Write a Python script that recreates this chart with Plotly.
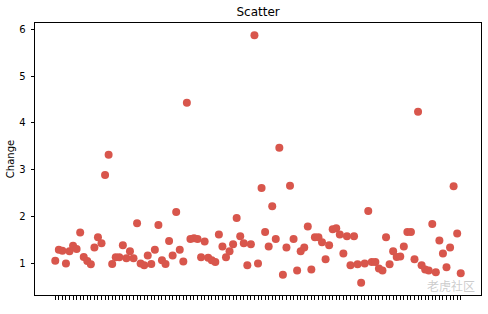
import plotly.graph_objects as go

# categories (tick labels in the reference are too small to read; use positions)
categories = [str(i) for i in range(115)]

change = [
    1.06, 1.29, 1.27, 1.00, 1.26, 1.38, 1.31, 1.66, 1.14, 1.05,
    0.98, 1.34, 1.56, 1.43, 2.89, 3.32, 0.99, 1.13, 1.13, 1.39,
    1.11, 1.26, 1.11, 1.86, 1.00, 0.96, 1.17, 0.99, 1.29, 1.82,
    1.07, 0.99, 1.48, 1.17, 2.10, 1.29, 1.04, 4.43, 1.52, 1.54,
    1.52, 1.13, 1.47, 1.12, 1.07, 1.03, 1.62, 1.36, 1.13, 1.26,
    1.41, 1.97, 1.58, 1.43, 0.96, 1.41, 5.87, 1.00, 2.61, 1.67,
    1.36, 2.22, 1.52, 3.47, 0.76, 1.34, 2.66, 1.52, 0.85, 1.26,
    1.34, 1.79, 0.87, 1.56, 1.56, 1.45, 1.09, 1.39, 1.73, 1.75,
    1.62, 1.21, 1.58, 0.96, 1.58, 0.98, 0.59, 1.00, 2.12, 1.03,
    1.03, 0.89, 0.85, 1.56, 0.98, 1.26, 1.14, 1.15, 1.36, 1.67,
    1.67, 1.09, 4.24, 0.96, 0.87, 0.85, 1.84, 0.81, 1.49, 1.21,
    0.92, 1.34, 2.65, 1.64, 0.79,
]

y_ticks = [1, 2, 3, 4, 5, 6]

n = len(categories)
ymin, ymax = min(change), max(change)
span = ymax - ymin
xpad = 0.05 * (n - 1)

fig = go.Figure(
    go.Scatter(
        x=list(range(n)),
        y=change,
        mode="markers",
        marker=dict(size=8, color="rgb(216,86,76)", line=dict(width=0)),
        hoverinfo="y",
    )
)

axis_common = dict(
    showline=True, linecolor="black", linewidth=1, mirror=True,
    showgrid=False, zeroline=False,
    ticks="outside", ticklen=3.5, tickwidth=0.8, tickcolor="black",
)

fig.update_layout(
    width=488, height=314,
    margin=dict(l=35, r=7, t=23, b=19),
    paper_bgcolor="white", plot_bgcolor="white",
    font=dict(family="DejaVu Sans", size=10, color="black"),
    showlegend=False,
    title=dict(text="Scatter", x=0.529, xanchor="center", y=0.962, yanchor="middle",
               font=dict(size=12, family="DejaVu Sans", color="black")),
    xaxis=dict(
        **axis_common,
        range=[-xpad, n - 1 + xpad],
        tickmode="array",
        tickvals=list(range(n)),
        ticktext=categories,
        showticklabels=False,
    ),
    yaxis=dict(
        **axis_common,
        range=[ymin - 0.05 * span, ymax + 0.05 * span],
        tickmode="array",
        tickvals=y_ticks,
        ticktext=[str(v) for v in y_ticks],
        ticklabelstandoff=3,
        title=dict(text="Change", font=dict(size=10), standoff=2),
    ),
    annotations=[
        dict(text="老虎社区", x=0.99, y=0.035, xref="paper", yref="paper",
             xanchor="right", yanchor="middle", showarrow=False,
             font=dict(size=12, color="rgba(170,170,170,0.6)",
                       family="Noto Sans CJK SC")),
    ],
)

fig.write_html("out.html")
